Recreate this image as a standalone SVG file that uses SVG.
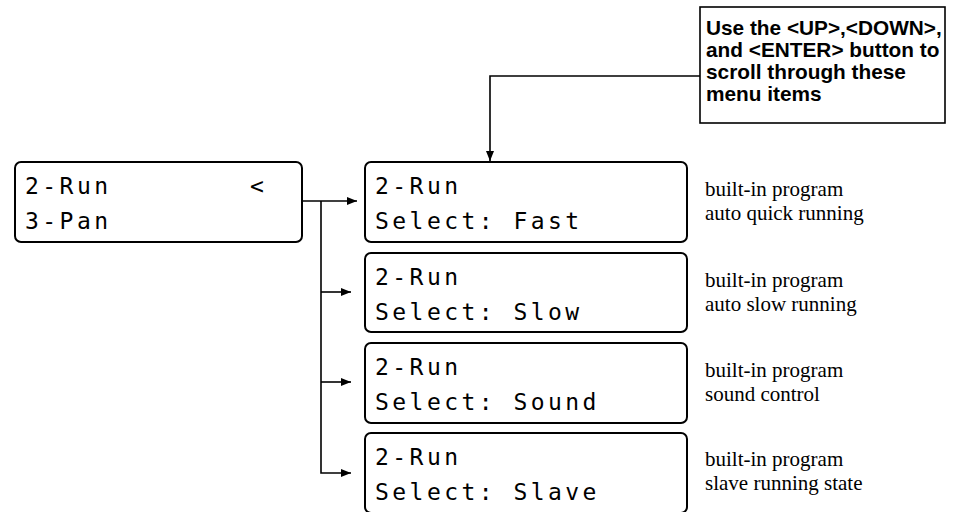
<svg xmlns="http://www.w3.org/2000/svg" width="970" height="512" viewBox="0 0 970 512">
<style>
.lcd{fill:#fff;stroke:#000;stroke-width:2}
.lt{font-family:"DejaVu Sans Mono","Liberation Mono",monospace;font-size:23px;letter-spacing:3.45px;fill:#000}
.desc{font-family:"Liberation Serif","Times New Roman",serif;font-size:21px;fill:#000}
.note{font-family:"Liberation Sans",Arial,sans-serif;font-size:20.8px;font-weight:bold;fill:#000}
.ln{fill:none;stroke:#000;stroke-width:1.6}
</style>
<defs>
<marker id="ah" viewBox="0 0 10 8" refX="10" refY="4" markerWidth="10" markerHeight="8" markerUnits="userSpaceOnUse" orient="auto">
<path d="M0,0 L10,4 L0,8 Z" fill="#000"/>
</marker>
</defs>
<rect width="970" height="512" fill="#fff"/>
<g id="connectors">
<path class="ln" d="M302,201 H357" marker-end="url(#ah)"/>
<path class="ln" d="M321,201 V473 H351" marker-end="url(#ah)"/>
<path class="ln" d="M321,292 H351" marker-end="url(#ah)"/>
<path class="ln" d="M321,382 H351" marker-end="url(#ah)"/>
<path class="ln" d="M700,76 H490 V161" marker-end="url(#ah)"/>
</g>
<g id="menu">
<rect class="lcd" x="15" y="162" width="287" height="80" rx="6"/>
<text class="lt" x="25" y="194">2-Run</text>
<text class="lt" x="250" y="194">&lt;</text>
<text class="lt" x="25" y="229">3-Pan</text>
</g>
<g id="fast">
<rect class="lcd" x="365" y="162" width="322" height="80" rx="6"/>
<text class="lt" x="375" y="194">2-Run</text>
<text class="lt" x="375" y="229">Select: Fast</text>
</g>
<g id="slow">
<rect class="lcd" x="365" y="253" width="322" height="79" rx="6"/>
<text class="lt" x="375" y="285">2-Run</text>
<text class="lt" x="375" y="320">Select: Slow</text>
</g>
<g id="sound">
<rect class="lcd" x="365" y="343" width="322" height="80" rx="6"/>
<text class="lt" x="375" y="375">2-Run</text>
<text class="lt" x="375" y="410">Select: Sound</text>
</g>
<g id="slave">
<rect class="lcd" x="365" y="433" width="322" height="80" rx="6"/>
<text class="lt" x="375" y="465">2-Run</text>
<text class="lt" x="375" y="500">Select: Slave</text>
</g>
<g id="callout">
<rect x="700" y="7" width="245" height="116" fill="#fff" stroke="#000" stroke-width="1.6"/>
<text class="note" x="706" y="35">Use the &lt;UP&gt;,&lt;DOWN&gt;,</text>
<text class="note" x="706" y="57">and &lt;ENTER&gt; button to</text>
<text class="note" x="706" y="79">scroll through these</text>
<text class="note" x="706" y="101">menu items</text>
</g>
<g id="descriptions">
<text class="desc" x="705" y="196">built-in program</text>
<text class="desc" x="705" y="220">auto quick running</text>
<text class="desc" x="705" y="287">built-in program</text>
<text class="desc" x="705" y="311">auto slow running</text>
<text class="desc" x="705" y="377">built-in program</text>
<text class="desc" x="705" y="401">sound control</text>
<text class="desc" x="705" y="466">built-in program</text>
<text class="desc" x="705" y="490">slave running state</text>
</g>
</svg>
